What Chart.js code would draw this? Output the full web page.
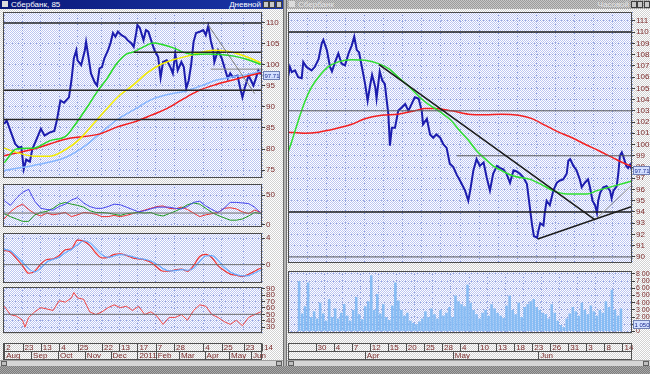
<!DOCTYPE html>
<html>
<head>
<meta charset="utf-8">
<script src="https://cdn.jsdelivr.net/npm/chart.js@4.4.1/dist/chart.umd.min.js"></script>
<style>
  body { margin: 0; width: 650px; height: 374px; overflow: hidden; position: relative;
         background: #b4b4b4; font-family: 'Liberation Sans', Arial, sans-serif; }
  .win { position: absolute; top: 0; height: 366px;
         background: repeating-conic-gradient(#ffffff 0 25%, #d2d2d2 0 50%) 0 0 / 2px 2px; }
  .title { position: absolute; left: 0; right: 0; top: 0; height: 9px; font-size: 8px; line-height: 9px; white-space: nowrap; }
  .title.act { background: linear-gradient(90deg, #0a1878, #1a36a8); color: #fff; }
  .title.off { background: repeating-conic-gradient(#9c9c9c 0 25%, #c6c6c6 0 50%) 0 0 / 2px 2px; color: #e4e4e4; }
  .title .ico { position: absolute; left: 2px; top: 1px; width: 6px; height: 6px; background: #dcdcdc; }
  .title .name { position: absolute; left: 11px; }
  .title .mode { position: absolute; right: 22px; }
  .btn { position: absolute; top: 1px; width: 6px; height: 7px; background: #c8c8c8; border: 1px solid #404040; box-sizing: border-box; }
  .scroll { position: absolute; top: 360px; height: 6px; background: #d6d6d6; border-top: 1px solid #a0a0a0; box-sizing: border-box; }
  .scroll i { position: absolute; top: 0; width: 6px; height: 5px; background: #c0c0c0; border: 1px solid #606060; box-sizing: border-box; }
  #mdi { position: absolute; left: 0; top: 366px; width: 650px; height: 8px;
         background: repeating-conic-gradient(#7c7c7c 0 25%, #a8a8a8 0 50%) 0 0 / 2px 2px; }
  canvas { position: absolute; }
</style>
</head>
<body>
<div class="win" style="left:0;width:283px;border-right:1px solid #707070">
  <div class="title act"><span class="ico"></span><span class="name">Сбербанк, 85</span><span class="mode">Дневной</span>
    <span class="btn" style="right:14px"></span><span class="btn" style="right:8px"></span><span class="btn" style="right:1px"></span></div>
</div>
<div class="win" style="left:286px;width:364px;border-left:1px solid #707070">
  <div class="title off"><span class="ico"></span><span class="name">Сбербанк</span><span class="mode">Часовой</span>
    <span class="btn" style="right:14px"></span><span class="btn" style="right:8px"></span><span class="btn" style="right:1px"></span></div>
</div>
<div class="scroll" style="left:0;width:283px"><i style="left:1px"></i><i style="right:1px"></i></div>
<div class="scroll" style="left:287px;width:363px"><i style="left:1px"></i><i style="right:1px"></i></div>
<div id="mdi"></div>

<canvas id="lMain" width="285" height="169" style="left:0;top:10px"></canvas>
<canvas id="lDmi"  width="285" height="46"  style="left:0;top:182px"></canvas>
<canvas id="lMacd" width="285" height="53"  style="left:0;top:231px"></canvas>
<canvas id="lRsi"  width="285" height="76"  style="left:0;top:285px"></canvas>
<canvas id="rMain" width="364" height="254" style="left:286px;top:10px"></canvas>
<canvas id="rVol"  width="364" height="92"  style="left:286px;top:269px"></canvas>

<script>
// ---------- left window: daily bars, Aug 2010 - Jun 2011 (x = trading day number)
const leftTickDays    = [0, 15, 30, 45, 60, 80, 94, 109, 124, 139, 163, 178, 196, 211];
const leftTickLabels  = ['2', '23', '13', '4', '25', '22', '13', '17', '7', '28', '4', '25', '23', '14'];
const leftMonthDays   = [0, 22, 44, 66, 87, 109, 124, 143, 164, 184, 202];
const leftMonthLabels = ['Aug', 'Sep', 'Oct', 'Nov', 'Dec', '2011', 'Feb', 'Mar', 'Apr', 'May', 'Jun'];

const leftPriceDays = [0, 2, 6, 9, 12, 14, 16, 18, 21, 23, 26, 30, 33, 37, 41, 43, 46, 49, 53, 55,
  57, 59, 60, 63, 66, 67, 69, 71, 74, 76, 78, 80, 82, 85, 87, 89, 91, 93, 96, 99,
  101, 104, 106, 108, 109, 111, 114, 116, 118, 121, 123, 126, 128, 130, 133, 136, 138, 140, 142, 145,
  147, 149, 151, 153, 155, 157, 160, 163, 165, 167, 169, 171, 172, 175, 178, 181, 183, 185, 187, 191,
  193, 195, 197, 200, 202, 204, 206, 208, 210];
const leftPrice = [86.0, 86.8, 83.6, 81.2, 80.3, 80.5, 75.2, 77.5, 77.0, 80.0, 82.0, 84.8, 83.2, 83.9, 84.3, 86.7, 91.5, 91.0, 92.3, 96.3,
  101.6, 103.5, 101.1, 100.0, 103.5, 105.5, 101.8, 98.0, 95.9, 95.1, 99.2, 99.5, 101.6, 103.5, 105.2, 107.6, 106.7, 107.9, 107.1, 106.6,
  105.9, 105.2, 104.3, 107.6, 109.5, 108.8, 105.9, 108.3, 107.9, 105.2, 103.5, 101.9, 97.0, 100.7, 101.1, 99.5, 98.0, 102.8, 98.7, 100.7,
  99.5, 94.4, 96.3, 100.0, 105.5, 107.6, 107.9, 108.3, 107.1, 109.3, 105.9, 103.5, 100.7, 103.5, 101.6, 98.7, 96.8, 98.0, 97.1, 97.5,
  94.7, 92.3, 94.7, 97.5, 96.3, 95.1, 96.8, 98.7, 97.7];

const maGreenDays = [0, 10, 24, 37.5, 51, 59, 68, 76, 84, 92, 100, 106, 114, 122, 130, 139, 147, 155, 166, 177, 188, 199, 210];
const maGreen     = [76.7, 80.0, 80.2, 82.0, 83.2, 86.2, 90.0, 93.6, 96.7, 100.3, 102.6, 103.1, 104.3, 105.2, 104.8, 104.0, 103.0, 102.5, 102.6, 102.5, 102.1, 101.3, 100.1];
const maYellowDays = [0, 10, 24, 37.5, 51, 62, 73, 84, 95, 106, 117, 128, 139, 150, 160, 171, 182, 193, 204, 210];
const maYellow     = [80.2, 79.2, 78.3, 78.3, 80.0, 82.4, 86.0, 89.6, 92.9, 95.3, 98.1, 100.1, 101.3, 102.1, 102.9, 103.5, 103.3, 102.5, 101.3, 100.5];
const maRedDays = [0, 24, 51, 78.5, 92, 106, 120, 133, 147, 160, 174, 188, 201, 210];
const maRed     = [78.4, 80.0, 82.4, 83.6, 85.2, 86.4, 88.0, 89.6, 92.0, 94.0, 95.4, 96.5, 97.5, 98.1];
const maBlueDays = [0, 24, 37.5, 51, 65, 78.5, 92, 106, 120, 133, 147, 160, 174, 188, 199, 210];
const maBlue     = [74.9, 76.1, 76.9, 78.1, 80.5, 83.7, 86.9, 89.3, 91.7, 92.9, 93.7, 94.9, 96.4, 97.2, 97.7, 98.5];

const leftLevels    = [110, 103, 99, 94, 87];
const leftLevelFrom = [-1, 106, 169, -1, -1];
const leftTrendDays = [167, 205];
const leftTrend     = [109.5, 93.2];

const oscDays = [0, 5, 10, 15, 20, 25, 30, 35, 40, 45, 50, 55, 60, 65, 70, 75, 80, 85, 90, 95,
  100, 105, 110, 115, 120, 125, 130, 135, 140, 145, 150, 155, 160, 165, 170, 175, 180, 185, 190, 195, 200, 205, 210];
const dmiBlue  = [41, 33, 45, 55, 60, 40, 28, 26, 25, 31, 35, 42, 46, 37, 31, 28, 28, 31, 35, 34,
  30, 26, 22, 24, 27, 30, 30, 30, 28, 27, 31, 38, 40, 32, 26, 21, 28, 38, 38, 37, 36, 30, 20];
const dmiRed   = [10, 22, 30, 35, 26, 19, 15, 20, 17, 19, 21, 14, 17, 21, 20, 18, 14, 14, 16, 14,
  16, 19, 22, 25, 28, 31, 32, 28, 27, 30, 26, 20, 14, 17, 19, 21, 28, 29, 27, 22, 19, 25, 21];
const dmiGreen = [19, 14, 10, 6, 6, 17, 21, 23, 28, 35, 38, 35, 33, 30, 24, 21, 21, 20, 18, 16,
  19, 20, 21, 20, 21, 17, 15, 19, 23, 28, 34, 37, 35, 28, 21, 16, 12, 8, 8, 10, 15, 21, 19];
const macdLine   = [2.15, 1.9, 0.9, -0.15, -1.3, -1.0, 0.1, 0.77, 0.87, 1.38, 2.25, 2.4, 3.7, 3.55, 2.9, 1.75, 1.0, 1.1, 1.54, 1.64,
  1.38, 1.03, 0.87, 0.72, 0.36, -0.41, -1.0, -1.0, -0.8, -0.67, -1.0, -0.15, 1.23, 1.54, 1.03, -0.15, -0.9, -1.44, -1.6, -1.8, -1.44, -1.0, -0.5];
const macdSignal = [2.3, 2.1, 1.3, 0.4, -0.6, -1.1, -0.5, 0.4, 0.8, 1.1, 1.8, 2.3, 3.0, 3.6, 3.3, 2.4, 1.5, 1.1, 1.3, 1.5,
  1.45, 1.2, 0.95, 0.8, 0.55, 0.05, -0.6, -0.95, -0.9, -0.75, -0.85, -0.55, 0.5, 1.3, 1.35, 0.6, -0.4, -1.1, -1.5, -1.7, -1.65, -1.25, -0.8];
const rsiDays = [0, 5, 10, 15, 17, 20, 25, 30, 35, 40, 45, 50, 55, 57, 60, 65, 70, 75, 80, 85,
  90, 95, 100, 105, 110, 115, 120, 125, 130, 135, 140, 145, 150, 155, 160, 165, 170, 175, 180, 185, 190, 195, 200, 205, 210];
const rsi = [62.6, 49.6, 47.3, 40.8, 30, 45.2, 53.9, 60.4, 58.3, 56, 71.3, 69, 75.6, 84, 75.6, 73.4, 53.9, 49.6, 53.9, 60.4,
  64.8, 60.4, 62.6, 56, 62.6, 49.6, 53.9, 47.3, 34.3, 45.2, 45.2, 49.6, 40.8, 56, 64.8, 62.6, 49.6, 45.2, 38.7, 34.3, 40.8, 32.2, 45.2, 49.6, 53.9];

// ---------- right window: hourly bars, end of Mar - Jun 14 2011 (x = trading day number)
const rightTickDays   = [3, 6, 9, 12, 15, 18, 21, 24, 27, 30, 33, 36, 39, 42, 45, 48, 51, 54];
const rightTickLabels = ['30', '4', '7', '12', '15', '20', '25', '28', '4', '10', '13', '18', '23', '26', '31', '3', '8', '14'];
const rightMonthDays   = [4.6, 25.3, 45.4];
const rightMonthLabels = ['Apr', 'May', 'Jun'];

const rightPriceDays = [0, 0.3, 0.6, 1.1, 1.6, 2.15, 2.4, 2.9, 3.7, 4.2, 4.8, 5.3, 5.55, 6.1, 6.6, 6.9, 7.4, 7.9, 8.4, 8.95,
  9.5, 10.0, 10.4, 10.8, 11.15, 11.6, 12.1, 12.5, 12.9, 13.2, 13.7, 13.9, 14.4, 14.8, 15.2, 15.5, 15.75, 16.0, 16.3, 16.8,
  17.3, 17.85, 18.4, 18.9, 19.4, 19.9, 20.5, 21.0, 21.2, 21.8, 22.3, 22.8, 23.3, 23.9, 24.4, 24.9, 25.4, 25.95, 26.5, 27.0,
  27.8, 28.3, 28.6, 29.1, 29.6, 30.1, 30.7, 31.2, 31.7, 32.2, 32.8, 33.3, 33.8, 34.3, 34.85, 35.4, 35.9, 36.4, 36.9, 37.5,
  37.9, 38.3, 38.6, 39.1, 39.3, 39.6, 40.1, 40.3, 40.6, 41.1, 41.65, 42.2, 42.7, 43.2, 43.75, 44.0, 44.3, 44.8, 45.3, 45.8,
  46.1, 46.6, 47.1, 47.4, 47.8, 48.2, 48.5, 48.7, 49.0, 49.5, 50.0, 50.55, 50.8, 51.1, 51.6, 51.85, 52.1, 52.4, 52.6, 53.1,
  53.4, 53.7, 54.0];
const rightPrice = [106.0, 106.9, 106.45, 106.6, 106.0, 105.9, 107.35, 106.9, 106.6, 106.9, 107.6, 109.0, 109.3, 108.4, 106.9, 106.5, 107.35, 108.1, 107.2, 107.05,
  108.1, 108.8, 109.6, 108.4, 108.2, 106.9, 105.4, 103.9, 105.3, 106.2, 105.1, 104.1, 106.5, 105.7, 105.4, 103.9, 102.7, 99.9, 101.5, 101.5,
  103.0, 103.3, 103.6, 103.0, 103.6, 104.2, 104.1, 103.0, 101.8, 102.3, 100.9, 100.6, 100.9, 100.6, 100.0, 99.7, 98.3, 98.0, 97.3, 96.8,
  95.9, 95.0, 95.9, 97.7, 98.7, 98.1, 98.4, 97.05, 95.9, 97.4, 98.1, 97.9, 97.8, 97.4, 96.6, 97.7, 97.6, 97.4, 97.1, 96.5,
  94.7, 92.9, 91.85, 91.7, 92.3, 93.0, 92.8, 93.9, 95.0, 94.6, 95.9, 96.6, 96.8, 96.9, 97.4, 98.55, 98.7, 98.1, 97.7, 96.9,
  96.2, 96.6, 96.9, 96.2, 95.0, 94.6, 93.9, 95.0, 95.7, 96.2, 96.3, 95.9, 95.2, 95.9, 96.3, 97.4, 99.0, 99.3, 99.0, 98.1,
  97.9, 98.2, 97.7];

const rGreenDays = [0, 0.6, 1.6, 2.7, 3.7, 4.8, 6.3, 7.9, 10, 12.1, 14.2, 15.8, 17.3, 18.9, 20.5, 22, 23.9, 25.5, 27, 28.3,
  29.6, 31, 32.2, 33.8, 35.4, 38, 39.6, 41.6, 43.8, 46.9, 48.5, 51.1, 54];
const rGreen = [99.3, 100.3, 102.1, 103.9, 105.1, 106.0, 106.9, 107.35, 107.55, 107.5, 107.2, 106.75, 106.0, 105.2, 104.3, 103.6, 102.9, 102.2, 101.2, 100.4,
  99.45, 98.7, 98.1, 97.6, 97.2, 96.9, 96.5, 95.9, 95.6, 95.6, 95.9, 96.3, 96.75];
const rRedDays = [0, 2.7, 4.8, 7.4, 10, 12.1, 14.7, 17.3, 19.9, 21.5, 23.1, 25.7, 28.3, 30.9, 33.5, 36.2, 38.3, 40.4, 42.5, 44.6, 46.7, 48.8, 50.9, 52.5, 54];
const rRed = [101.1, 101.0, 101.1, 101.4, 101.8, 102.3, 102.6, 102.7, 103.0, 103.2, 103.2, 103.0, 102.7, 102.65, 102.7, 102.6, 102.3, 101.7, 101.1, 100.6, 100.0, 99.45, 98.85, 98.4, 98.05];

const rightLevels    = [110, 103, 99, 94, 90];
const rightLevelFrom = [0, 0, 26.5, 0, 0];
const rTrendDownDays = [14.3, 48.2], rTrendDown = [107.1, 93.3];
const rTrendUpDays   = [39.2, 54],   rTrendUp   = [91.6, 94.5];
const rChannelDays   = [48.2, 54],   rChannel   = [93.3, 96.4];

// volume, two bars per trading day
const volume = [7000, 2500, 3500, 6800, 2000, 2800, 1800, 4000, 2500, 1500, 4500, 2000, 3200, 1800, 2600, 3800, 2200, 1500, 3000, 4800,
  2400, 1700, 3500, 4200, 7800, 3000, 5200, 2500, 3800, 2000, 1600, 3600, 6800, 4300, 3000, 2200, 2600, 1500, 1200, 1000,
  1400, 1800, 2800, 2000, 3200, 2400, 1800, 3000, 2200, 2600, 3400, 2000, 5000, 4200, 3800, 3500, 6500, 4000, 3000, 2400,
  1800, 2600, 3000, 2200, 3800, 3200, 2600, 2200, 1900, 3600, 5000, 3000, 2400, 4000, 2000, 3400, 3800, 4200, 4500, 3400,
  3000, 2600, 2400, 1800, 3800, 2600, 1500, 900, 600, 1800, 2500, 3400, 2800, 2200, 4000, 3000, 2400, 3600, 2800, 2200,
  3000, 2600, 4200, 3400, 5800, 3000, 2200, 3200];
const VOL_PER_DAY = 2;

// ---------- helpers
const FONT = {family: "'Liberation Sans', 'DejaVu Sans', sans-serif", size: 8};
const NARROW = {family: "'Liberation Sans Narrow', 'Liberation Sans', sans-serif", size: 7};
const LABEL = '#7c2c2c';
const GRID = '#93a3dc';

function checker(ctx, a, b) {
  const p = document.createElement('canvas');
  p.width = 2; p.height = 2;
  const g = p.getContext('2d');
  g.fillStyle = a; g.fillRect(0, 0, 2, 2);
  g.fillStyle = b; g.fillRect(0, 0, 1, 1); g.fillRect(1, 1, 1, 1);
  return ctx.createPattern(p, 'repeat');
}

const paneDecor = {
  id: 'paneDecor',
  beforeDraw(chart) {
    const {ctx, chartArea: a} = chart;
    ctx.save();
    ctx.fillStyle = checker(ctx, '#ffffff', '#bcc5f2');
    ctx.fillRect(a.left, a.top, a.width, a.height);
    ctx.restore();
  },
  afterDraw(chart, args, opts) {
    const {ctx, chartArea: a} = chart;
    ctx.save();
    ctx.lineWidth = 1;
    ctx.strokeStyle = '#4a4a4a';
    ctx.strokeRect(a.left + 0.5, a.top + 0.5, a.width - 1, a.height - 1);
    // the boxed date rows under the last pane
    [['days', 2], ['months', 0]].forEach(([id, off]) => {
      const s = chart.scales[id];
      if (!s) return;
      const top = Math.round(s.top) + off + 0.5;
      ctx.strokeStyle = '#505050';
      ctx.strokeRect(a.left + 0.5, top, a.width - 1, 8);
      s.ticks.forEach(t => {
        const x = Math.round(s.getPixelForValue(t.value)) + 0.5;
        ctx.beginPath(); ctx.moveTo(x, top); ctx.lineTo(x, top + 8); ctx.stroke();
      });
    });
    // last value box on the price axis
    if (opts && opts.value != null) {
      const y = Math.round(chart.scales.y.getPixelForValue(opts.value));
      const x = Math.round(a.right) + 1;
      ctx.fillStyle = '#d4e0ff';
      ctx.fillRect(x, y - 4, opts.w, 9);
      ctx.strokeStyle = '#7080b4';
      ctx.strokeRect(x + 0.5, y - 3.5, opts.w - 1, 8);
      ctx.fillStyle = '#1a2a90';
      ctx.font = "6px 'Liberation Sans', sans-serif";
      ctx.textBaseline = 'middle';
      ctx.fillText(opts.text, x + 1.5, y + 1);
    }
    ctx.restore();
  }
};

function gridX(min, max, days) {
  return {
    type: 'linear', min, max, bounds: 'data',
    afterBuildTicks: s => { s.ticks = days.map(v => ({value: v})); },
    afterFit: s => { s.height = 0; s.paddingLeft = 0; s.paddingRight = 0; },
    ticks: {display: false},
    grid: {color: GRID, drawTicks: false},
    border: {display: false, dash: [1, 2]}
  };
}

function dayAxis(min, max, days, labels) {
  return {
    type: 'linear', position: 'bottom', weight: 1, min, max, bounds: 'data',
    afterBuildTicks: s => { s.ticks = days.map(v => ({value: v})); },
    afterFit: s => { s.height = 10; s.paddingLeft = 0; s.paddingRight = 0; },
    ticks: {autoSkip: false, maxRotation: 0, align: 'start', labelOffset: 2, padding: 2,
            font: FONT, color: LABEL, callback: (v, i) => labels[i]},
    grid: {color: GRID, drawTicks: false},
    border: {display: false, dash: [1, 2]}
  };
}

function monthAxis(min, max, days, labels) {
  return {
    type: 'linear', position: 'bottom', weight: 2, min, max, bounds: 'data',
    afterBuildTicks: s => { s.ticks = days.map(v => ({value: v})); },
    afterFit: s => { s.height = 9; s.paddingLeft = 0; s.paddingRight = 0; },
    ticks: {autoSkip: false, maxRotation: 0, align: 'start', labelOffset: 2, padding: 0,
            font: FONT, color: LABEL, callback: (v, i) => labels[i]},
    grid: {display: false, drawTicks: false},
    border: {display: false}
  };
}

function valueAxis(min, max, ticks, width, fmt, font) {
  return {
    type: 'linear', position: 'right', min, max, bounds: 'data',
    afterBuildTicks: s => { s.ticks = ticks.map(v => ({value: v})); },
    afterFit: s => { s.width = width; s.paddingTop = 0; s.paddingBottom = 0; },
    ticks: {autoSkip: false, font: font || FONT, color: LABEL, padding: 1, callback: fmt || (v => String(v))},
    grid: {color: GRID, tickLength: 3, tickColor: '#404040', tickWidth: 1},
    border: {display: false, dash: [1, 2]}
  };
}

function line(days, vals, color, width, smooth) {
  return {
    data: days.map((d, i) => ({x: d, y: vals[i]})),
    borderColor: color, borderWidth: width, pointRadius: 0, fill: false,
    tension: smooth ? 0.4 : 0, cubicInterpolationMode: smooth ? 'monotone' : 'default'
  };
}

function options(padLeft, scales, decor) {
  return {
    responsive: false, animation: false, events: [],
    layout: {padding: {left: padLeft, top: 2, right: 0, bottom: 1}},
    plugins: {legend: {display: false}, tooltip: {enabled: false}, paneDecor: decor || {}},
    scales
  };
}

function make(id, type, datasets, opts) {
  return new Chart(document.getElementById(id), {type, data: {datasets}, options: opts, plugins: [paneDecor]});
}

// ---------- left window
const L_MIN = -1, L_MAX = 211;

make('lMain', 'line', [
  line(leftTrendDays, leftTrend, '#7c7c7c', 1),
  ...leftLevels.map((v, i) => line([leftLevelFrom[i], L_MAX], [v, v], v === 99 ? '#8a8a8a' : '#262626', v === 99 ? 1 : 1.5)),
  line(maGreenDays, maGreen, '#26dc26', 1.5, true),
  line(maYellowDays, maYellow, '#f4ec00', 1.5, true),
  line(maRedDays, maRed, '#f41c1c', 1.5, true),
  line(maBlueDays, maBlue, '#86b6ff', 1.5, true),
  line(leftPriceDays, leftPrice, '#1c1cae', 2)
], options(3, {
  x: gridX(L_MIN, L_MAX, leftTickDays),
  y: valueAxis(73.1, 112.6, [75, 80, 85, 90, 95, 100, 105, 110], 23)
}, {value: 97.71, text: '97.71', w: 17}));

make('lDmi', 'line', [
  line([L_MIN, L_MAX], [20, 20], '#707070', 1),
  line(oscDays, dmiBlue, '#4646ee', 1),
  line(oscDays, dmiGreen, '#1e9a1e', 1),
  line(oscDays, dmiRed, '#ee3030', 1)
], options(3, {
  x: gridX(L_MIN, L_MAX, leftTickDays),
  y: valueAxis(-3.5, 69, [0, 50], 23)
}));

make('lMacd', 'line', [
  line([L_MIN, L_MAX], [0, 0], '#707070', 1),
  line(oscDays, macdSignal, '#66aaff', 1.2, true),
  line(oscDays, macdLine, '#ee3434', 1.2, true)
], options(3, {
  x: gridX(L_MIN, L_MAX, leftTickDays),
  y: valueAxis(-2.77, 4.77, [0, 4], 23)
}));

make('lRsi', 'line', [
  line([L_MIN, L_MAX], [50, 50], '#707070', 1),
  line(rsiDays, rsi, '#f04848', 1)
], options(3, {
  days: dayAxis(L_MIN, L_MAX, leftTickDays, leftTickLabels),
  months: monthAxis(L_MIN, L_MAX, leftMonthDays, leftMonthLabels),
  y: valueAxis(20.9, 92.6, [30, 40, 50, 60, 70, 80, 90], 23)
}));

// ---------- right window
const R_MIN = 0, R_MAX = 54;

make('rMain', 'line', [
  line(rTrendDownDays, rTrendDown, '#1a1a1a', 1.5),
  line(rTrendUpDays, rTrendUp, '#1a1a1a', 1.5),
  line(rChannelDays, rChannel, '#909090', 1),
  ...rightLevels.map((v, i) => line([rightLevelFrom[i], R_MAX], [v, v],
      v === 110 || v === 94 ? '#1e1e1e' : '#5c5c5c', v === 110 || v === 94 ? 1.5 : 1)),
  line(rGreenDays, rGreen, '#2ee02e', 1.5, true),
  line(rRedDays, rRed, '#f42020', 1.5, true),
  line(rightPriceDays, rightPrice, '#1c1cae', 2)
], options(2, {
  x: gridX(R_MIN, R_MAX, rightTickDays),
  y: valueAxis(89.46, 111.79, [90, 91, 92, 93, 94, 95, 96, 97, 98, 99, 100, 101, 102, 103, 104, 105, 106, 107, 108, 109, 110, 111], 18)
}, {value: 97.71, text: '97.71', w: 17}));

make('rVol', 'bar', [{
  data: volume.map((v, i) => ({x: (i + 0.5) / VOL_PER_DAY, y: v})),
  backgroundColor: '#86bcf4', borderWidth: 0, barPercentage: 1, categoryPercentage: 0.85
}], options(2, {
  days: dayAxis(R_MIN, R_MAX, rightTickDays, rightTickLabels),
  months: monthAxis(R_MIN, R_MAX, rightMonthDays, rightMonthLabels),
  y: valueAxis(-210, 8400, [0, 1000, 2000, 3000, 4000, 5000, 6000, 7000, 8000], 18,
               v => v === 0 ? '0' : (v / 1000) + ' 000', NARROW)
}, {value: 1050, text: '1 050', w: 17}));
</script>
</body>
</html>
